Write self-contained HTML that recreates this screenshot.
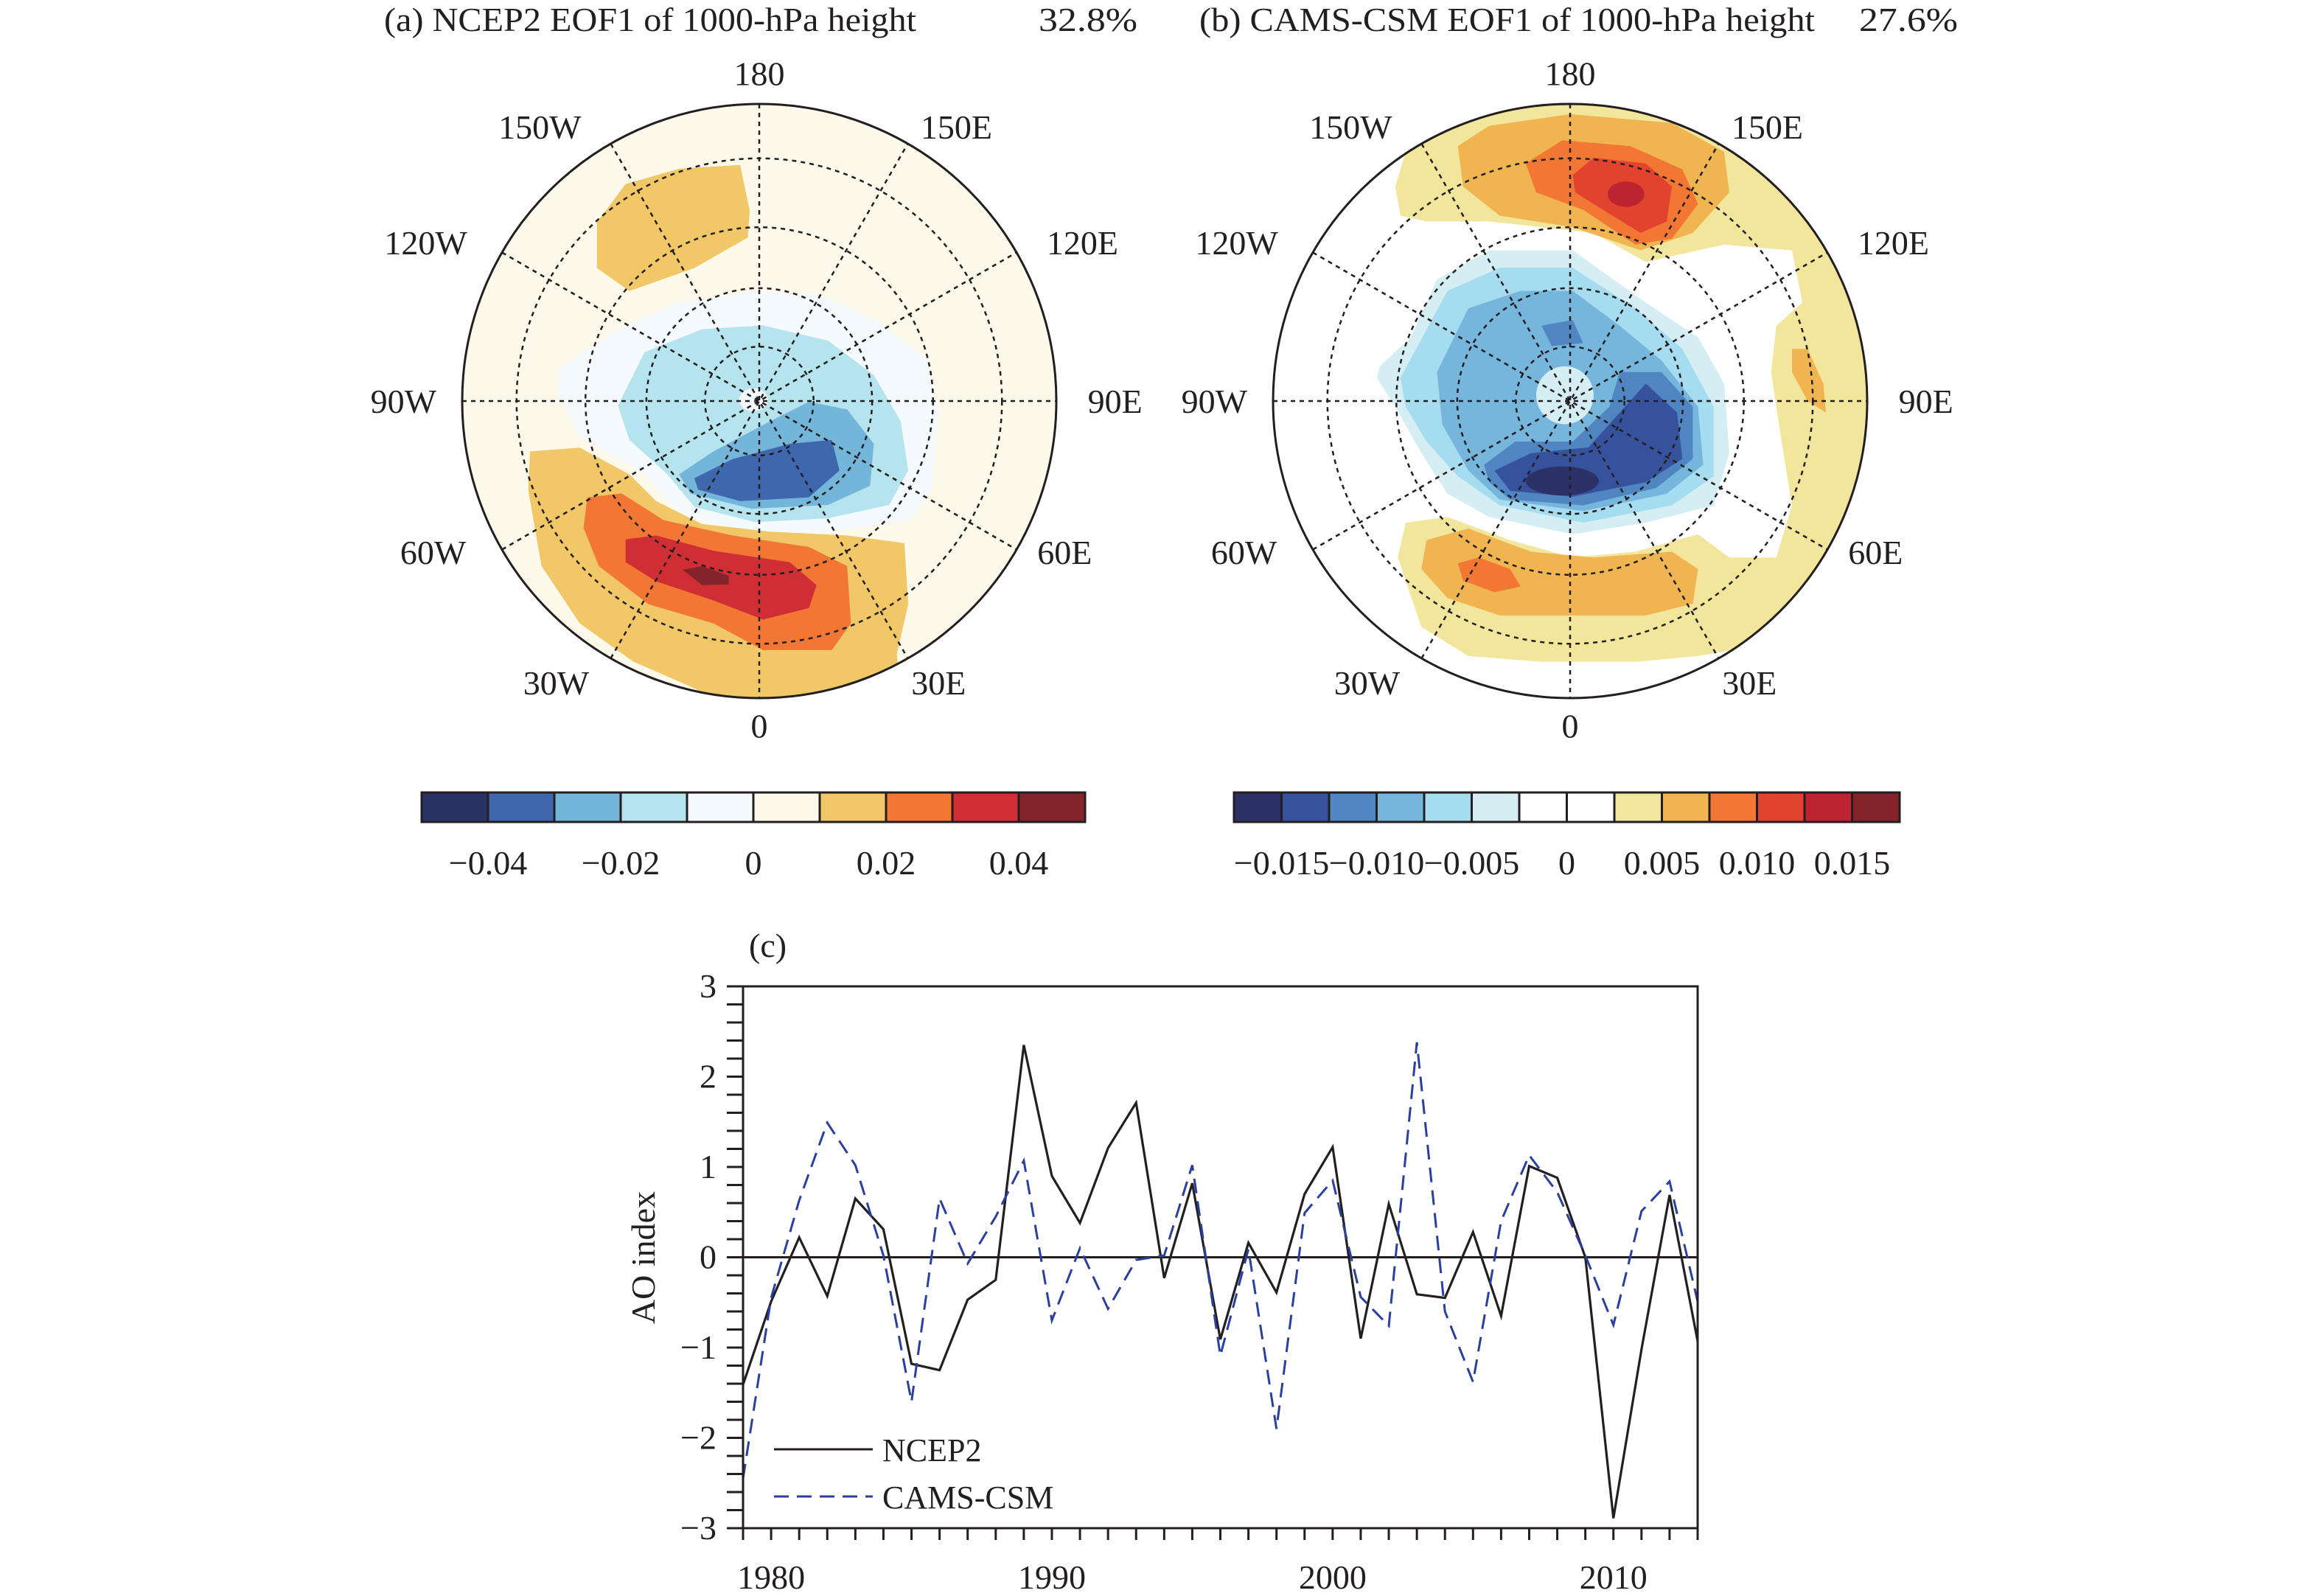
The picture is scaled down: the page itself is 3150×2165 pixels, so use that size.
<!DOCTYPE html>
<html><head><meta charset="utf-8"><style>
html,body{margin:0;padding:0;background:#fff}
svg{display:block}
text{font-family:"Liberation Serif",serif;fill:#231f20}
</style></head><body>
<svg id="fig" width="3150" height="2165" viewBox="0 0 3150 2165" xmlns="http://www.w3.org/2000/svg">
<defs>
<clipPath id="clipA"><circle cx="1030" cy="544" r="403"/></clipPath>
<clipPath id="clipB"><circle cx="2130" cy="544" r="403"/></clipPath>
</defs>

<g>
<text x="521" y="42" font-size="46" textLength="722" lengthAdjust="spacingAndGlyphs">(a) NCEP2 EOF1 of 1000-hPa height</text>
<text x="1409" y="42" font-size="46" textLength="134" lengthAdjust="spacingAndGlyphs">32.8%</text>
<g clip-path="url(#clipA)">
<circle cx="1030" cy="544" r="403" fill="#fefaeb"/>
<g transform="translate(1030,544) scale(0.5182) translate(-770,-768)">
<polygon fill="#f1c767" points="345,300 420,200 560,160 720,150 745,270 740,340 600,420 430,480 345,420"/>
<polygon fill="#f4fafd" points="250,680 400,580 560,510 760,480 930,490 1080,560 1210,660 1240,800 1220,1000 1160,1080 950,1110 720,1110 560,1060 470,960 300,860 240,740"/>
<polygon fill="#b5e3ee" points="400,780 470,640 620,580 780,570 950,610 1070,700 1140,820 1160,950 1110,1040 950,1075 760,1085 600,1045 530,960 430,870"/>
<ellipse cx="755" cy="765" rx="38" ry="30" fill="#f4fafd"/>
<polygon fill="#74b5da" points="560,960 650,900 800,820 900,770 1000,790 1070,880 1060,990 950,1040 750,1050 590,1010"/>
<polygon fill="#3f67ae" points="600,970 700,920 850,880 960,870 980,950 900,1020 720,1030 610,1000"/>
<polygon fill="#f1c767" points="170,900 300,890 430,960 500,1030 620,1090 800,1110 1000,1120 1150,1140 1160,1300 1130,1430 1150,1600 770,1620 600,1520 440,1450 300,1350 200,1200 165,1000"/>
<polygon fill="#f27634" points="320,1020 410,1010 520,1080 700,1120 900,1150 1000,1200 1010,1350 960,1420 780,1420 650,1350 480,1300 350,1200 310,1100"/>
<polygon fill="#cf2f34" points="420,1130 500,1120 650,1160 850,1190 920,1250 900,1310 780,1340 650,1290 500,1240 420,1190"/>
<polygon fill="#84232a" points="570,1210 620,1200 690,1225 690,1248 620,1250"/>
</g>
<g id="gridA"></g>
</g>
<circle cx="1030" cy="544" r="403" fill="none" stroke="#231f20" stroke-width="3"/>
<g id="labelsA"></g>
</g>

<g>
<text x="1627" y="42" font-size="46" textLength="835" lengthAdjust="spacingAndGlyphs">(b) CAMS-CSM EOF1 of 1000-hPa height</text>
<text x="2522" y="42" font-size="46" textLength="134" lengthAdjust="spacingAndGlyphs">27.6%</text>
<g clip-path="url(#clipB)">
<circle cx="2130" cy="544" r="403" fill="#ffffff"/>
<g transform="translate(2130,544) scale(0.7082,0.786) translate(-755,-690)">
<polygon fill="#f2e69d" points="420,320 440,260 560,170 755,150 900,160 1050,210 1200,320 1300,470 1340,690 1310,880 1240,1010 1130,1110 1000,1130 880,1140 700,1140 560,1130 470,1080 425,960 440,900 520,890 640,930 760,960 880,950 1000,920 1060,960 1150,960 1180,870 1160,760 1140,640 1150,560 1200,520 1180,430 1050,420 900,450 800,400 600,380 480,380 430,370"/>
<polygon fill="#f0b550" points="540,250 600,215 755,195 950,210 1050,260 1060,330 990,400 890,430 760,390 620,370 550,320"/>
<polygon fill="#f0b550" points="480,930 560,910 680,950 800,960 950,950 1000,980 990,1040 900,1060 760,1060 620,1060 520,1030 470,980"/>
<polygon fill="#f0b550" points="1180,600 1210,600 1240,660 1245,710 1210,690 1180,640"/>
<polygon fill="#f27734" points="670,280 740,240 870,250 970,290 1000,350 950,410 880,420 780,360 690,330"/>
<polygon fill="#f27734" points="540,970 580,960 640,980 660,1010 610,1020 550,1000"/>
<polygon fill="#e2432f" points="760,300 800,270 900,280 950,320 940,380 890,400 800,350 765,330"/>
<ellipse cx="862" cy="333" rx="35" ry="22" fill="#bb2430"/>
<polygon fill="#d5eef4" points="390,630 450,580 500,480 600,430 760,430 900,520 1000,580 1050,660 1060,780 1030,870 900,900 760,920 600,890 520,850 470,780 420,700 385,650"/>
<polygon fill="#a6dcef" points="430,650 520,500 620,460 760,460 880,530 970,600 1030,700 1030,820 950,870 780,900 620,870 540,820 480,760 440,700"/>
<polygon fill="#76b5dc" points="500,640 560,530 660,500 760,500 850,560 930,620 1000,700 1010,800 940,850 780,880 620,860 560,810 510,730"/>
<ellipse cx="745" cy="680" rx="55" ry="50" fill="#d5eef4"/>
<polygon fill="#4f86c1" points="590,800 650,760 760,760 830,700 850,640 930,640 990,700 990,790 920,840 780,870 640,860 600,830"/>
<polygon fill="#4f86c1" points="700,560 760,550 780,590 720,595"/>
<polygon fill="#37529c" points="610,810 680,780 790,770 860,700 900,660 960,710 970,790 900,830 760,855 640,845"/>
<ellipse cx="740" cy="828" rx="70" ry="25" fill="#2c3168"/>
</g>
<g id="gridB"></g>
</g>
<circle cx="2130" cy="544" r="403" fill="none" stroke="#231f20" stroke-width="3"/>
<g id="labelsB"></g>
</g>

<g id="cbarA"></g>
<g id="cbarB"></g>

<g id="chart">
<text x="1016" y="1298" font-size="46">(c)</text>
<text transform="translate(888,1706) rotate(-90)" text-anchor="middle" font-size="46">AO index</text>
<g id="ticks"></g>
<g id="series"></g>
<rect x="1008" y="1338" width="1295" height="735" fill="none" stroke="#231f20" stroke-width="3"/>
<g>
<line x1="1050" y1="1966" x2="1184" y2="1966" stroke="#231f20" stroke-width="3"/>
<text x="1197" y="1982" font-size="44">NCEP2</text>
<line x1="1050" y1="2030" x2="1184" y2="2030" stroke="#2b3f9e" stroke-width="3" stroke-dasharray="20,11"/>
<text x="1197" y="2046" font-size="44">CAMS-CSM</text>
</g>
</g>
</svg>
<script>
const NS='http://www.w3.org/2000/svg';
const years=[];for(let y=1979;y<=2013;y++)years.push(y);
const ncep2=[-1.41,-0.49,0.22,-0.43,0.65,0.31,-1.18,-1.25,-0.47,-0.25,2.35,0.9,0.38,1.21,1.71,-0.23,0.82,-0.91,0.16,-0.39,0.7,1.22,-0.9,0.59,-0.41,-0.45,0.28,-0.65,1.01,0.88,0.0,-2.89,-1.02,0.69,-0.93];
const cams=[-2.45,-0.45,0.63,1.49,1.02,0.02,-1.6,0.65,-0.07,0.45,1.07,-0.7,0.1,-0.57,-0.03,0.02,1.02,-1.09,0.09,-1.9,0.49,0.85,-0.44,-0.76,2.38,-0.6,-1.38,0.4,1.13,0.72,0.02,-0.75,0.51,0.84,-0.49];
const yTicks=[-3,-2,-1,0,1,2,3];
const xTicks=[1980,1990,2000,2010];
const cbarAColors=['#2b3266','#3f67ae','#74b5da','#b5e3ee','#f4fafd','#fefaeb','#f1c767','#f27634','#cf2f34','#84232a'];
const cbarALabels=['\u22120.04','\u22120.02','0','0.02','0.04'];
const cbarBColors=['#2c3168','#37529c','#4f86c1','#76b5dc','#a6dcef','#d5eef4','#ffffff','#ffffff','#f2e69d','#f0b550','#f27734','#e2432f','#bb2430','#84232a'];
const cbarBLabels=['\u22120.015','\u22120.010','\u22120.005','0','0.005','0.010','0.015'];
const lonNames=['180','150E','120E','90E','60E','30E','0','30W','60W','90W','120W','150W'];

const X0=1008,X1=2303,Y0=1338,Y1=2073;
const xs=y=>X0+(y-1979)/(2013-1979)*(X1-X0);
const ys=v=>Y0+(3-v)/6*(Y1-Y0);
function mk(tag,attrs,parent){const e=document.createElementNS(NS,tag);for(const k in attrs)e.setAttribute(k,attrs[k]);parent.appendChild(e);return e;}

const tk=document.getElementById('ticks');
for(let v=-3;v<=3.001;v+=0.2){const y=ys(v);
 const l=mk('line',{x1:X0-22,x2:X0,y1:y,y2:y,stroke:'#231f20','stroke-width':3},tk);
 
 }
yTicks.forEach(v=>{const t=mk('text',{x:X0-36,y:ys(v)+15,'font-size':46,'text-anchor':'end'},tk);t.textContent=(v<0?'\u2212':'')+Math.abs(v);
 
 });
years.forEach(yr=>{const x=xs(yr);const l=mk('line',{x1:x,x2:x,y1:Y1,y2:Y1+16,stroke:'#231f20','stroke-width':3},tk);
 
 });
xTicks.forEach(yr=>{const t=mk('text',{x:xs(yr),y:2155,'font-size':46,'text-anchor':'middle'},tk);t.textContent=yr;
 
 });
const se=document.getElementById('series');
const z=mk('line',{x1:X0,x2:X1,y1:ys(0),y2:ys(0),stroke:'#231f20','stroke-width':3},se);


const p1=mk('polyline',{points:years.map((y,i)=>xs(y)+','+ys(ncep2[i])).join(' '),fill:'none',stroke:'#231f20','stroke-width':3.2},se);


const p2=mk('polyline',{points:years.map((y,i)=>xs(y)+','+ys(cams[i])).join(' '),fill:'none',stroke:'#2b3f9e','stroke-width':3,'stroke-dasharray':'20,11'},se);



function cbar(id,x0,x1,colors,labels){const g=document.getElementById(id);const w=(x1-x0)/colors.length;
 colors.forEach((c,i)=>{const r=mk('rect',{x:x0+i*w,y:1075,width:w,height:40,fill:c,stroke:'#231f20','stroke-width':3},g);
  
  });
 labels.forEach((s,i)=>{const t=mk('text',{x:x0+(1+i*2)*w,y:1186,'font-size':46,'text-anchor':'middle'},g);t.textContent=s;
  
  });}
cbar('cbarA',572,1472,cbarAColors,cbarALabels);
cbar('cbarB',1674,2577,cbarBColors,cbarBLabels);

const labOff=[[0,-221],[133,-185],[218,-107],[240,0],[206,102],[121,190],[0,219],[-137,190],[-220,102],[-240,0],[-225,-107],[-148,-185]];
function grid(gid,lid,cx,cy){const g=document.getElementById(gid);const R=403;
 [0.183,0.38,0.585,0.817].forEach(f=>{const c=mk('circle',{cx:cx,cy:cy,r:R*f,fill:'none',stroke:'#231f20','stroke-width':2.5,'stroke-dasharray':'6,6'},g);
  
  });
 for(let k=0;k<6;k++){const a=k*Math.PI/6;const dx=Math.sin(a)*R,dy=Math.cos(a)*R;
  const l=mk('line',{x1:cx-dx,y1:cy-dy,x2:cx+dx,y2:cy+dy,stroke:'#231f20','stroke-width':2.5,'stroke-dasharray':'6,6'},g);
  
  }
 const lg=document.getElementById(lid);
 lonNames.forEach((s,i)=>{const t=mk('text',{x:cx+labOff[i][0]*2.011,y:cy+labOff[i][1]*2.011+16,'font-size':46,'text-anchor':'middle'},lg);t.textContent=s;
  
  });}
grid('gridA','labelsA',1030,544);
grid('gridB','labelsB',2130,544);
</script>
</body></html>
